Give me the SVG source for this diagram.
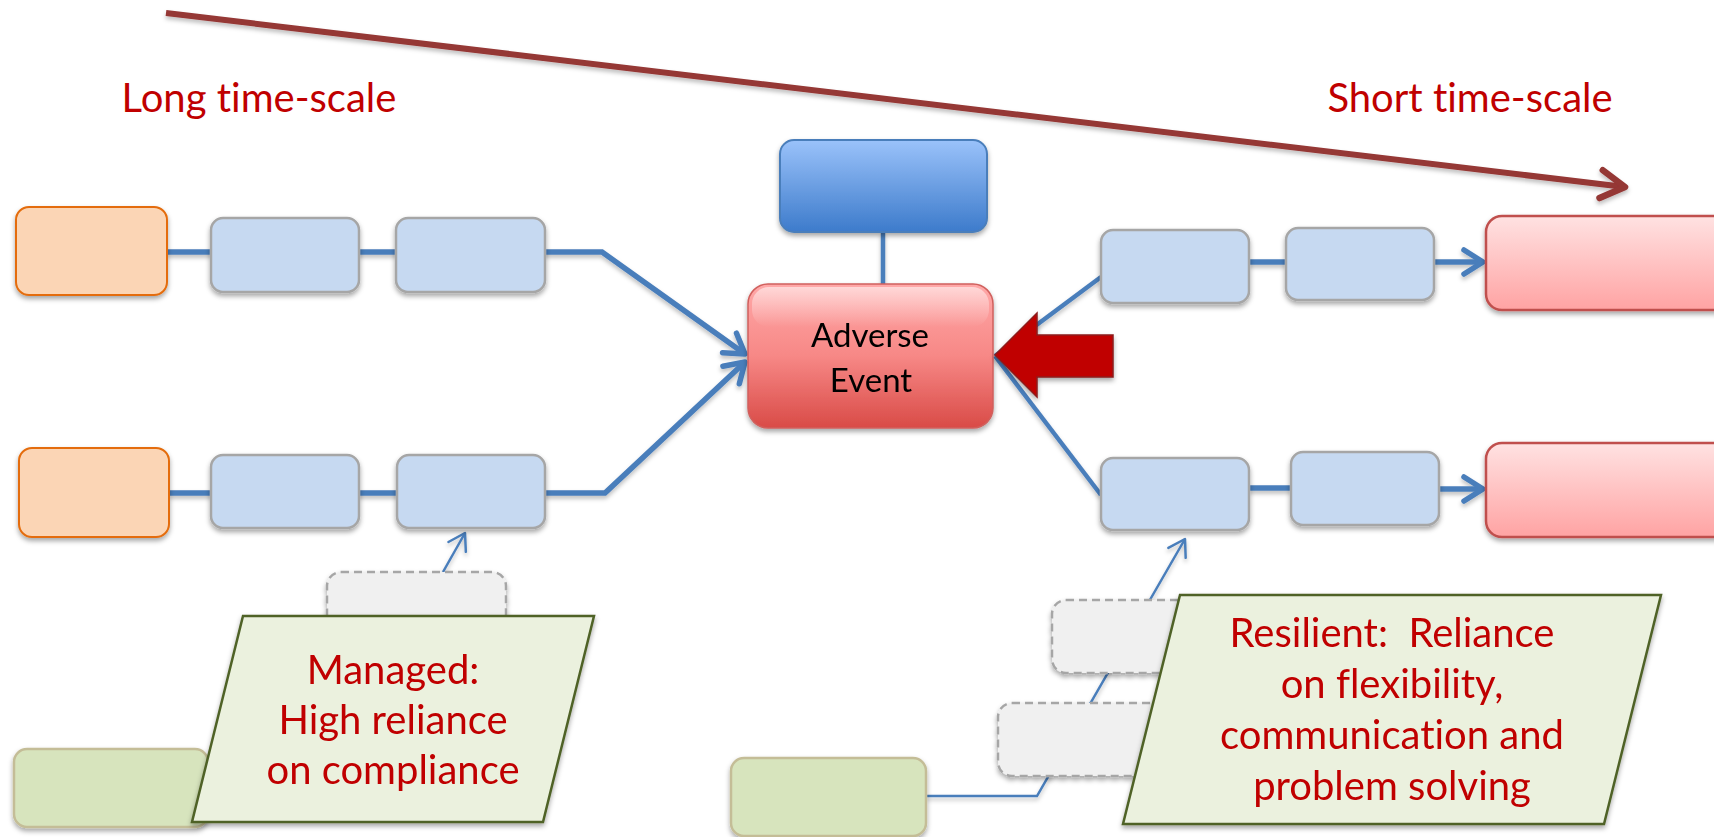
<svg xmlns="http://www.w3.org/2000/svg" width="1714" height="837" viewBox="0 0 1714 837">
  <style>
    text{font-variant-ligatures:none;font-feature-settings:"liga" 0,"clig" 0}
    .lbl{font-family:Lato,"Liberation Sans",sans-serif;font-size:40px;fill:#C00000;text-anchor:middle}
    .ae{font-family:Lato,"Liberation Sans",sans-serif;font-size:33px;fill:#000000;text-anchor:middle}
    .conn{fill:none;stroke:#4A7EBB;stroke-width:5.5}
    .link{fill:none;stroke:#4A7EBB;stroke-width:4.5}
    .thin{fill:none;stroke:#4A7EBB;stroke-width:2.5}
    .step{fill:#C6D9F1;stroke:#A6A6A6;stroke-width:2.5}
    .start{fill:#FBD5B5;stroke:#E46C0A;stroke-width:2}
    .outcome{fill:url(#gPink);stroke:#C0504D;stroke-width:2.5}
    .barrier{fill:#F0F0F0;stroke:#A6A6A6;stroke-width:2.5;stroke-dasharray:8 5}
    .green{fill:#D7E4BD;stroke:#C4BD97;stroke-width:2.5}
    .note{fill:#EBF1DE;stroke:#4F6228;stroke-width:2.5}
    .sh{filter:url(#shadow)}
  </style>
  <defs>
    <filter id="shadow" x="-10%" y="-10%" width="125%" height="135%">
      <feDropShadow dx="0" dy="3" stdDeviation="2.5" flood-color="#000" flood-opacity="0.35"/>
    </filter>
    <filter id="lineShadow" filterUnits="userSpaceOnUse" x="0" y="0" width="1714" height="837">
      <feDropShadow dx="0" dy="3" stdDeviation="2" flood-color="#000" flood-opacity="0.25"/>
    </filter>
    <linearGradient id="gPink" x1="0" y1="0" x2="0" y2="1">
      <stop offset="0" stop-color="#FFE2E2"/>
      <stop offset="1" stop-color="#FFA3A3"/>
    </linearGradient>
    <linearGradient id="gBlue" x1="0" y1="0" x2="0" y2="1">
      <stop offset="0" stop-color="#9AC2FA"/>
      <stop offset="1" stop-color="#3D7BCB"/>
    </linearGradient>
    <linearGradient id="gRed" x1="0" y1="0" x2="0" y2="1">
      <stop offset="0" stop-color="#FFA8A8"/>
      <stop offset="0.5" stop-color="#F78886"/>
      <stop offset="1" stop-color="#D94B47"/>
    </linearGradient>
    <linearGradient id="gGloss" x1="0" y1="0" x2="0" y2="1">
      <stop offset="0" stop-color="#FFFFFF" stop-opacity="0.55"/>
      <stop offset="1" stop-color="#FFFFFF" stop-opacity="0"/>
    </linearGradient>
    <marker id="arrBlue" markerUnits="userSpaceOnUse" viewBox="-30 -20 36 40" markerWidth="36" markerHeight="40" refX="0" refY="0" orient="auto">
      <path d="M-19,-12 L0,0 L-19,12" fill="none" stroke="#4A7EBB" stroke-width="5.5" stroke-linecap="round" stroke-linejoin="round"/>
    </marker>
    <marker id="arrThin" markerUnits="userSpaceOnUse" viewBox="-24 -16 30 32" markerWidth="30" markerHeight="32" refX="0" refY="0" orient="auto">
      <path d="M-16,-10 L0,0 L-16,10" fill="none" stroke="#4A7EBB" stroke-width="2.5" stroke-linecap="round" stroke-linejoin="round"/>
    </marker>
    <marker id="arrTime" markerUnits="userSpaceOnUse" viewBox="-34 -24 42 48" markerWidth="42" markerHeight="48" refX="0" refY="0" orient="auto">
      <path d="M-24,-14 L0,0 L-24,14" fill="none" stroke="#953735" stroke-width="6.5" stroke-linecap="round" stroke-linejoin="round"/>
    </marker>
  </defs>

  <!-- time axis -->
  <g id="time-axis">
    <path d="M166,13 L1625,187" fill="none" stroke="#953735" stroke-width="6" marker-end="url(#arrTime)" filter="url(#lineShadow)"/>
    <text class="lbl" x="259" y="112">Long time-scale</text>
    <text class="lbl" x="1470" y="112">Short time-scale</text>
  </g>

  <!-- connectors -->
  <g id="connectors" filter="url(#lineShadow)">
    <path class="conn" d="M167,252 H602 L745,354" marker-end="url(#arrBlue)"/>
    <path class="conn" d="M169,493 H605 L745,362" marker-end="url(#arrBlue)"/>
    <path class="link" d="M883,232 V285"/>
    <path class="link" d="M995,356 L1101,277"/>
    <path class="link" d="M995,356 L1101,495"/>
    <path class="conn" d="M1249,262 H1286"/>
    <path class="conn" d="M1434,262 H1483" marker-end="url(#arrBlue)"/>
    <path class="conn" d="M1249,488 H1291"/>
    <path class="conn" d="M1439,489 H1483" marker-end="url(#arrBlue)"/>
    <path class="thin" d="M443,572 L465,533" marker-end="url(#arrThin)"/>
    <path class="thin" d="M926,796 H1037 L1185,539" marker-end="url(#arrThin)"/>
  </g>

  <!-- upper-left chain -->
  <g id="start-upper" class="sh"><rect class="start" x="16" y="207" width="151" height="88" rx="13"/></g>
  <g id="step-upper-1" class="sh"><rect class="step" x="211" y="218" width="148" height="74" rx="12"/></g>
  <g id="step-upper-2" class="sh"><rect class="step" x="396" y="218" width="149" height="74" rx="12"/></g>

  <!-- lower-left chain -->
  <g id="start-lower" class="sh"><rect class="start" x="19" y="448" width="150" height="89" rx="13"/></g>
  <g id="step-lower-1" class="sh"><rect class="step" x="211" y="455" width="148" height="73" rx="12"/></g>
  <g id="step-lower-2" class="sh"><rect class="step" x="397" y="455" width="148" height="73" rx="12"/></g>

  <!-- centre -->
  <g id="top-factor" class="sh"><rect x="780" y="140" width="207" height="92" rx="14" fill="url(#gBlue)" stroke="#4A7EBB" stroke-width="2"/></g>
  <g id="adverse-event" class="sh">
    <rect x="748" y="284" width="245" height="144" rx="20" fill="url(#gRed)" stroke="#D0605D" stroke-width="1.5"/>
    <rect x="752" y="287" width="237" height="40" rx="17" fill="url(#gGloss)"/>
    <text class="ae" x="870" y="347">Adverse</text>
    <text class="ae" x="871" y="392">Event</text>
  </g>
  <g id="trigger-arrow" class="sh">
    <polygon points="995,355 1037,313 1037,335 1113,335 1113,377 1037,377 1037,397" fill="#C00000" stroke="#8C1A1A" stroke-width="1.5"/>
  </g>

  <!-- right chains -->
  <g id="step-right-1" class="sh"><rect class="step" x="1101" y="230" width="148" height="73" rx="12"/></g>
  <g id="step-right-2" class="sh"><rect class="step" x="1286" y="228" width="148" height="72" rx="12"/></g>
  <g id="outcome-upper" class="sh"><rect class="outcome" x="1486" y="216" width="260" height="94" rx="16"/></g>
  <g id="step-right-3" class="sh"><rect class="step" x="1101" y="458" width="148" height="72" rx="12"/></g>
  <g id="step-right-4" class="sh"><rect class="step" x="1291" y="452" width="148" height="73" rx="12"/></g>
  <g id="outcome-lower" class="sh"><rect class="outcome" x="1486" y="443" width="260" height="94" rx="16"/></g>

  <!-- barriers and supports -->
  <g id="barrier-left" class="sh"><rect class="barrier" x="327" y="572" width="179" height="74" rx="14"/></g>
  <g id="barrier-right-1" class="sh"><rect class="barrier" x="1052" y="600" width="180" height="73" rx="14"/></g>
  <g id="barrier-right-2" class="sh"><rect class="barrier" x="998" y="703" width="180" height="73" rx="14"/></g>
  <g id="support-left" class="sh"><rect class="green" x="14" y="749" width="194" height="78" rx="13"/></g>
  <g id="support-right" class="sh"><rect class="green" x="731" y="758" width="195" height="78" rx="13"/></g>

  <!-- notes -->
  <g id="note-managed" class="sh">
    <polygon class="note" points="243,616 594,616 543,822 192,822"/>
    <text class="lbl" x="393" y="684">Managed:</text>
    <text class="lbl" x="393" y="734">High reliance</text>
    <text class="lbl" x="393" y="784">on compliance</text>
  </g>
  <g id="note-resilient" class="sh">
    <polygon class="note" points="1180,595 1661,595 1604,824 1123,824"/>
    <text class="lbl" x="1392" y="647">Resilient:&#160; Reliance</text>
    <text class="lbl" x="1392" y="698">on flexibility,</text>
    <text class="lbl" x="1392" y="749">communication and</text>
    <text class="lbl" x="1392" y="800">problem solving</text>
  </g>
</svg>
